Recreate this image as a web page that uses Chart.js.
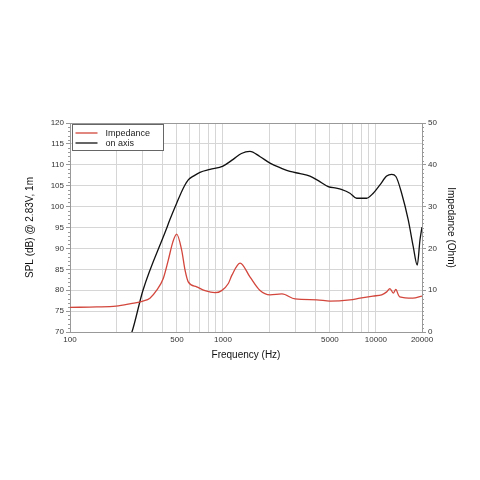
<!DOCTYPE html>
<html>
<head>
<meta charset="utf-8">
<script src="https://cdn.jsdelivr.net/npm/chart.js@4.4.1/dist/chart.umd.min.js"></script>
<style>
  html,body{margin:0;padding:0;background:#fff;}
  canvas{display:block;}
</style>
</head>
<body>
<canvas id="myCanvas" width="480" height="480"></canvas>
<script>
// frequency response (left axis, dB)
var splFreq = [240, 254, 300, 424, 450, 498, 550, 593, 641, 707, 823, 1000, 1166, 1320, 1500, 1740, 2030, 2400, 2740, 3200, 3700, 4200, 4870, 5500, 5930, 6760, 7480, 8690, 9600, 10620, 11750, 12670, 13500, 14720, 16260, 17530, 18620, 19400, 20000];
var splVals = [68.0, 70.0, 80.0, 94.4, 96.9, 100.8, 104.4, 106.4, 107.3, 108.2, 108.9, 109.7, 111.3, 112.7, 113.2, 112.0, 110.4, 109.2, 108.4, 107.9, 107.3, 106.2, 104.8, 104.4, 104.1, 103.2, 102.0, 102.0, 103.2, 105.2, 107.3, 107.7, 107.2, 103.2, 96.8, 90.4, 86.0, 92.0, 95.1];

// impedance (right axis, Ohm)
var impFreq = [100, 150, 200, 250, 300, 333, 369, 407, 439, 470, 498, 537, 565, 593, 673, 763, 887, 980, 1084, 1144, 1294, 1500, 1740, 2030, 2430, 2960, 4110, 5000, 6760, 7860, 9560, 10900, 11750, 12340, 12980, 13500, 14000, 14300, 17400, 20000];
var impVals = [5.9, 6.0, 6.2, 6.8, 7.4, 8.1, 10.0, 12.8, 17.2, 21.5, 23.4, 19.6, 14.8, 12.0, 10.8, 9.9, 9.4, 9.9, 11.6, 13.6, 16.5, 13.2, 10.0, 8.9, 9.1, 7.9, 7.7, 7.4, 7.7, 8.1, 8.6, 8.9, 9.6, 10.4, 9.3, 10.2, 8.9, 8.4, 8.1, 8.6];

var xGrid = [100,200,300,400,500,600,700,800,900,1000,2000,3000,4000,5000,6000,7000,8000,9000,10000,20000];
var xTickLabels = [100, 500, 1000, 5000, 10000, 20000];

function pts(xs, ys){
  var out = [];
  for (var i=0;i<xs.length;i++) out.push({x:xs[i], y:ys[i]});
  return out;
}

var fontFam = "'Liberation Sans', Arial, Helvetica, sans-serif";

//minor ticks, top border and the boxed legend
var extras = {
  id:'extras',
  afterDraw:function(chart){
    var ctx = chart.ctx, a = chart.chartArea;
    var yL = chart.scales.y, yR = chart.scales.y1;
    ctx.save();
    ctx.strokeStyle = '#999';
    ctx.lineWidth = 1;
    ctx.beginPath();
    ctx.moveTo(a.left, a.top+0.5); ctx.lineTo(a.right, a.top+0.5);
    for (var v=70; v<=120; v++){
      if (v%5===0) continue;
      var py = Math.round(yL.getPixelForValue(v))+0.5;
      ctx.moveTo(a.left-2, py); ctx.lineTo(a.left, py);
    }
    for (var w=0; w<=50; w++){
      if (w%10===0) continue;
      var pr = Math.round(yR.getPixelForValue(w))+0.5;
      ctx.moveTo(a.right, pr); ctx.lineTo(a.right+2, pr);
    }
    ctx.stroke();

    // legend
    var bx = a.left+2.5, by = a.top+1.5;
    ctx.fillStyle = '#fff';
    ctx.fillRect(bx, by, 91, 26);
    ctx.strokeStyle = '#666';
    ctx.strokeRect(bx, by, 91, 26);
    ctx.font = '9px ' + fontFam;
    ctx.textBaseline = 'middle';
    chart.data.datasets.forEach(function(ds, i){
      var ly = by + 8.5 + i*10;
      ctx.strokeStyle = ds.borderColor;
      ctx.lineWidth = 1.3;
      ctx.beginPath();
      ctx.moveTo(bx+3, ly); ctx.lineTo(bx+25, ly);
      ctx.stroke();
      ctx.fillStyle = '#222';
      ctx.fillText(ds.label, bx+33, ly+0.5);
    });
    ctx.restore();
  }
};

var ctx = document.getElementById('myCanvas');
var myLineChart = new Chart(ctx, {
  type:'line',
  data:{
    datasets:[
      {
        label:'Impedance',
        data:pts(impFreq, impVals),
        yAxisID:'y1',
        borderColor:'#d2463c',
        borderWidth:1.3,
        pointRadius:0,
        fill:false,
        cubicInterpolationMode:'monotone'
      },
      {
        label:'on axis',
        data:pts(splFreq, splVals),
        yAxisID:'y',
        borderColor:'#111',
        borderWidth:1.3,
        pointRadius:0,
        fill:false,
        cubicInterpolationMode:'monotone'
      }
    ]
  },
  options:{
    responsive:false,
    animation:false,
    layout:{padding:{left:20, right:19, top:123, bottom:115}},
    plugins:{legend:{display:false}, tooltip:{enabled:false}},
    scales:{
      x:{
        type:'logarithmic',
        min:100, max:20000,
        afterBuildTicks:function(scale){
          scale.ticks = xGrid.map(function(v){return {value:v};});
        },
        afterFit:function(scale){ scale.height = 33; },
        ticks:{
          autoSkip:false, maxRotation:0, padding:3,
          color:'#333',
          font:{family:fontFam, size:8},
          callback:function(v){ return xTickLabels.indexOf(v) >= 0 ? String(v) : ''; }
        },
        grid:{color:'#d6d6d6', drawTicks:false},
        border:{color:'#999'},
        title:{display:true, text:'Frequency (Hz)', color:'#111', font:{family:fontFam, size:10}}
      },
      y:{
        position:'left',
        min:70, max:120,
        afterFit:function(scale){ scale.width = 50; },
        ticks:{stepSize:5, padding:2, color:'#333', font:{family:fontFam, size:8}},
        grid:{color:'#d6d6d6', tickColor:'#999', tickLength:4},
        border:{color:'#999'},
        title:{display:true, text:'SPL (dB) @ 2.83V, 1m', color:'#111', font:{family:fontFam, size:10}}
      },
      y1:{
        position:'right',
        min:0, max:50,
        afterFit:function(scale){ scale.width = 39; },
        ticks:{stepSize:10, padding:2, color:'#333', font:{family:fontFam, size:8}},
        grid:{drawOnChartArea:false, tickColor:'#999', tickLength:4},
        border:{color:'#999'},
        title:{display:true, text:'Impedance (Ohm)', color:'#111', font:{family:fontFam, size:10}}
      }
    }
  },
  plugins:[extras]
});
</script>
</body>
</html>
